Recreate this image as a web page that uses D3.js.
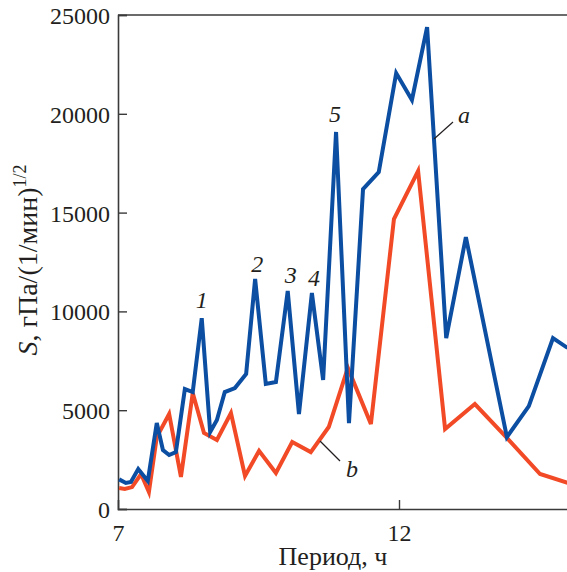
<!DOCTYPE html>
<html>
<head>
<meta charset="utf-8">
<script src="https://cdn.jsdelivr.net/npm/d3@7"></script>
<style>
  html, body { margin: 0; padding: 0; background: #fff; }
  svg { display: block; }
  text { font-family: "Liberation Serif", "DejaVu Serif", serif; fill: #231f20; }
</style>
</head>
<body>
<svg id="chart" width="567" height="572"></svg>
<script>
// ---- data ----
const periodsA = [7.02, 7.14, 7.23, 7.36, 7.53, 7.69, 7.80, 7.91, 8.03, 8.19, 8.33, 8.49, 8.64, 8.76, 8.90, 9.08, 9.28, 9.44, 9.63, 9.81, 10.02, 10.22, 10.45, 10.65, 10.88, 11.11, 11.36, 11.64, 11.95, 12.23, 12.50, 12.84, 13.19, 13.92, 14.31, 14.74, 15.0];
const valuesA  = [1500, 1320, 1370, 2020, 1420, 4350, 2980, 2730, 2880, 6070, 5920, 9660, 3900, 4500, 5920, 6120, 6830, 11640, 6330, 6430, 11030, 4810, 10930, 6530, 19080, 4350, 16190, 17050, 22060, 20700, 24390, 8650, 13760, 3640, 5210, 8650, 8150];
const periodsB = [7.02, 7.12, 7.25, 7.41, 7.55, 7.69, 7.91, 8.12, 8.33, 8.53, 8.76, 9.01, 9.26, 9.51, 9.81, 10.10, 10.43, 10.75, 11.09, 11.50, 11.91, 12.34, 12.82, 13.35, 13.92, 14.51, 15.0];
const valuesB  = [1060, 1010, 1110, 1770, 860, 3640, 4810, 1620, 5870, 3850, 3490, 4860, 1670, 2940, 1820, 3390, 2880, 4150, 7140, 4300, 14670, 17100, 4050, 5310, 3600, 1770, 1320];
const yTicks = [0, 5000, 10000, 15000, 20000, 25000];
const xTicks = [7, 12];
const peakLabels = ["1", "2", "3", "4", "5"];
const peakPeriods = [8.49, 9.44, 10.02, 10.45, 10.88];
const peakValues = [9660, 11640, 11030, 10930, 19080];

// ---- layout ----
const svg = d3.select("#chart");
const x = d3.scaleLinear().domain([7, 15]).range([118, 567.6]);
const y = d3.scaleLinear().domain([0, 25000]).range([509, 15]);
const axisColor = "#3a3a3a";

const seriesA = periodsA.map((p, i) => ({p, v: valuesA[i]}));
const seriesB = periodsB.map((p, i) => ({p, v: valuesB[i]}));

// frame: top line
svg.append("line").attr("x1", 118).attr("x2", 567).attr("y1", 15).attr("y2", 15)
  .attr("stroke", axisColor).attr("stroke-width", 1.6);

// y axis (ticks inward)
const yAxis = d3.axisLeft(y).tickValues(yTicks).tickSize(-9).tickPadding(8).tickFormat(d3.format("d"));
const gy = svg.append("g").attr("transform", "translate(118,0)").call(yAxis);
gy.select(".domain").attr("stroke", axisColor).attr("stroke-width", 1.6);
gy.selectAll(".tick line").attr("stroke", axisColor).attr("stroke-width", 1.4);
gy.selectAll(".tick text").attr("font-size", 24).attr("fill", "#231f20")
  .attr("dy", "0.35em");

// x axis (ticks inward)
const xAxis = d3.axisBottom(x).tickValues(xTicks).tickSize(-9).tickPadding(15).tickFormat(d3.format("d"));
const gx = svg.append("g").attr("transform", "translate(0,509)").call(xAxis);
gx.select(".domain").attr("stroke", axisColor).attr("stroke-width", 1.6);
gx.selectAll(".tick line").attr("stroke", axisColor).attr("stroke-width", 1.4);
gx.selectAll(".tick text").attr("font-size", 24).attr("fill", "#231f20")
  .attr("dy", "0.71em");
gx.selectAll(".tick").filter(d => d === 7).select("line").remove();

// lines
const line = d3.line().x(d => x(d.p)).y(d => y(d.v));
svg.append("path").datum(seriesB).attr("d", line)
  .attr("fill", "none").attr("stroke", "#f24a26").attr("stroke-width", 4)
  .attr("stroke-linejoin", "miter");
svg.append("path").datum(seriesA).attr("d", line)
  .attr("fill", "none").attr("stroke", "#0b4ea2").attr("stroke-width", 4)
  .attr("stroke-linejoin", "miter");

// peak labels
const peakOffsets = [[0, -10], [2, -7], [3, -8], [2, -7], [-1, -10]];
peakLabels.forEach((t, i) => {
  svg.append("text").attr("x", x(peakPeriods[i]) + peakOffsets[i][0])
    .attr("y", y(peakValues[i]) + peakOffsets[i][1])
    .attr("text-anchor", "middle").attr("font-size", 24).attr("font-style", "italic").text(t);
});

// series labels with leader lines
svg.append("line").attr("x1", 434).attr("y1", 139).attr("x2", 453).attr("y2", 122)
  .attr("stroke", "#231f20").attr("stroke-width", 1.2);
svg.append("text").attr("x", 464).attr("y", 123).attr("text-anchor", "middle")
  .attr("font-size", 24).attr("font-style", "italic").text("a");
svg.append("line").attr("x1", 320).attr("y1", 441).attr("x2", 340).attr("y2", 461)
  .attr("stroke", "#231f20").attr("stroke-width", 1.2);
svg.append("text").attr("x", 352).attr("y", 477).attr("text-anchor", "middle")
  .attr("font-size", 24).attr("font-style", "italic").text("b");

// axis titles
svg.append("text").attr("x", 333).attr("y", 565).attr("text-anchor", "middle")
  .attr("font-size", 26).text("Период, ч");
const yt = svg.append("text").attr("transform", "translate(37,260) rotate(-90)")
  .attr("text-anchor", "middle").attr("font-size", 28);
yt.append("tspan").attr("font-style", "italic").text("S");
yt.append("tspan").text(", гПа/(1/мин)");
yt.append("tspan").attr("font-size", 18).attr("dy", "-11").text("1/2");
</script>
</body>
</html>
